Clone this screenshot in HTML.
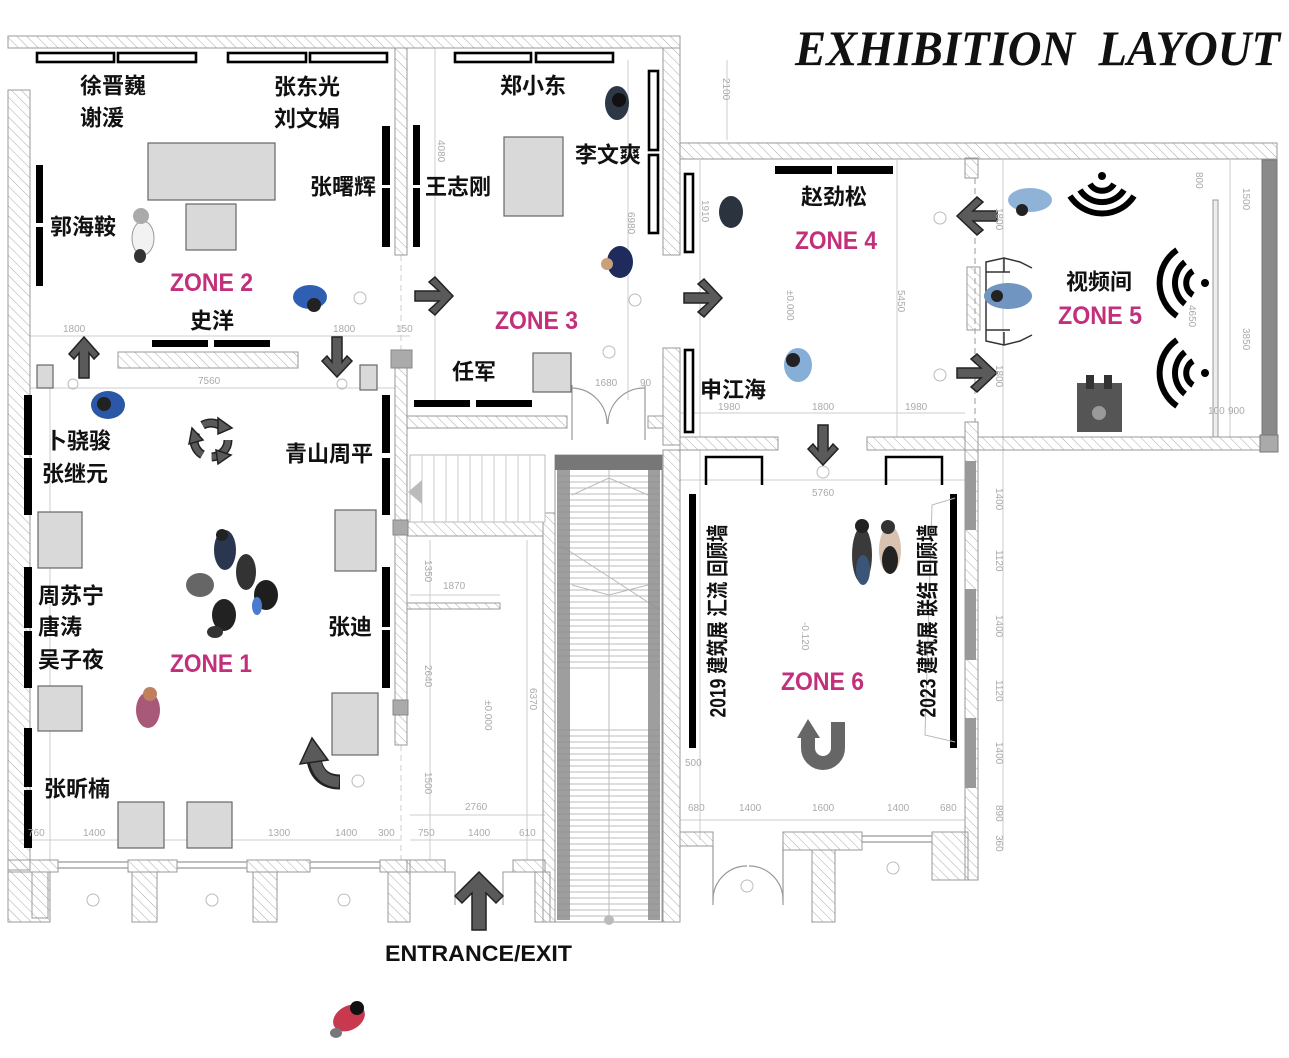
<!DOCTYPE html>
<html><head><meta charset="utf-8"><style>
html,body{margin:0;padding:0;background:#fff;}
svg{display:block;}
.n{font-family:"Liberation Sans","Noto Sans CJK SC",sans-serif;font-weight:bold;font-size:22px;fill:#111;dominant-baseline:central;}
.z{font-family:"Liberation Sans","Noto Sans CJK SC",sans-serif;font-weight:bold;font-size:25px;fill:#c2307c;dominant-baseline:central;}
.d{font-family:"Liberation Sans",sans-serif;font-size:10px;fill:#aaa;}
.w{fill:url(#h);stroke:#999;stroke-width:1;}
.p{fill:#d9d9d9;stroke:#666;stroke-width:1.2;}
.b{fill:#000;}
.o{fill:#fff;stroke:#000;stroke-width:2.6;}
.ar{fill:#5a5a5a;stroke:#222;stroke-width:1.5;}
.dl{stroke:#ccc;stroke-width:1;fill:none;}
</style></head><body>
<svg width="1289" height="1058" viewBox="0 0 1289 1058" xmlns="http://www.w3.org/2000/svg">
<defs>
<pattern id="h" width="7" height="7" patternUnits="userSpaceOnUse" patternTransform="rotate(-45)">
<line x1="0" y1="0" x2="0" y2="7" stroke="#aaa" stroke-width="1"/>
</pattern>
</defs>
<rect width="1289" height="1058" fill="#fff"/>

<!-- Title -->
<text x="795" y="65" font-family="'Liberation Serif',serif" font-weight="bold" font-style="italic" font-size="50" textLength="485" lengthAdjust="spacingAndGlyphs" fill="#111">EXHIBITION&#160;&#160;LAYOUT</text>

<!-- dimension lines (light) -->
<g class="dl">
<line x1="30" y1="336" x2="410" y2="336"/>
<line x1="30" y1="388" x2="395" y2="388"/>
<line x1="20" y1="840" x2="400" y2="840"/>
<line x1="50" y1="380" x2="50" y2="860"/>
<line x1="435" y1="48" x2="435" y2="400"/>
<line x1="628" y1="60" x2="628" y2="400"/>
<line x1="700" y1="160" x2="700" y2="437"/>
<line x1="897" y1="160" x2="897" y2="437"/>
<line x1="680" y1="413" x2="965" y2="413"/>
<line x1="680" y1="480" x2="965" y2="480"/>
<line x1="680" y1="820" x2="965" y2="820"/>
<line x1="700" y1="450" x2="700" y2="840"/>
<line x1="1003" y1="160" x2="1003" y2="850"/>
<line x1="1230" y1="160" x2="1230" y2="437"/>
<line x1="430" y1="540" x2="430" y2="860"/>
<line x1="527" y1="540" x2="527" y2="860"/>
<line x1="410" y1="815" x2="545" y2="815"/>
<line x1="410" y1="840" x2="545" y2="840"/>
<line x1="410" y1="595" x2="500" y2="595"/>
<line x1="727" y1="60" x2="727" y2="140"/>
</g>
<line x1="975" y1="178" x2="975" y2="422" stroke="#bbb" stroke-width="1.5" stroke-dasharray="6,4"/>
<line x1="401" y1="255" x2="401" y2="350" stroke="#ccc" stroke-width="1" stroke-dasharray="6,4"/>
<line x1="401" y1="745" x2="401" y2="860" stroke="#ccc" stroke-width="1" stroke-dasharray="6,4"/>

<!-- Walls -->
<rect class="w" x="8" y="36" width="672" height="12"/>
<rect class="w" x="663" y="48" width="17" height="207"/>
<rect class="w" x="680" y="143" width="597" height="16"/>
<rect class="w" x="8" y="90" width="22" height="780"/>
<rect class="w" x="395" y="48" width="12" height="207"/>
<rect class="w" x="118" y="352" width="180" height="16"/>
<rect class="w" x="395" y="368" width="12" height="377"/>
<rect class="w" x="663" y="348" width="17" height="97"/>
<rect class="w" x="407" y="416" width="160" height="12"/>
<rect class="w" x="648" y="416" width="15" height="12"/>
<rect class="w" x="680" y="437" width="98" height="13"/>
<rect class="w" x="867" y="437" width="98" height="13"/>
<rect class="w" x="965" y="158" width="13" height="20"/>
<rect class="w" x="965" y="422" width="13" height="28"/>
<rect class="w" x="978" y="437" width="284" height="13"/>
<rect x="1262" y="160" width="15" height="290" fill="#8a8a8a" stroke="#777"/>
<rect x="1260" y="435" width="18" height="17" fill="#aaa" stroke="#777"/>
<rect class="w" x="965" y="450" width="13" height="430"/>
<rect x="965" y="461" width="11" height="69" fill="#999"/>
<rect x="965" y="589" width="11" height="71" fill="#999"/>
<rect x="965" y="718" width="11" height="70" fill="#999"/>
<rect class="w" x="663" y="450" width="17" height="472"/>
<rect class="w" x="543" y="513" width="12" height="409"/>
<rect class="w" x="407" y="522" width="136" height="14"/>
<rect class="w" x="967" y="267" width="13" height="63"/>
<rect x="1213" y="200" width="5" height="237" fill="#eee" stroke="#999"/>

<!-- zone1 bottom wall + windows -->
<rect class="w" x="8" y="860" width="50" height="12"/>
<rect class="w" x="128" y="860" width="49" height="12"/>
<rect class="w" x="247" y="860" width="63" height="12"/>
<rect class="w" x="380" y="860" width="30" height="12"/>
<g stroke="#999" stroke-width="1.2">
<line x1="58" y1="862" x2="128" y2="862"/><line x1="58" y1="868" x2="128" y2="868"/>
<line x1="177" y1="862" x2="247" y2="862"/><line x1="177" y1="868" x2="247" y2="868"/>
<line x1="310" y1="862" x2="380" y2="862"/><line x1="310" y1="868" x2="380" y2="868"/>
<line x1="862" y1="836" x2="932" y2="836"/><line x1="862" y1="842" x2="932" y2="842"/>
</g>
<!-- pillars -->
<rect class="w" x="8" y="872" width="42" height="50"/>
<rect x="32" y="872" width="16" height="46" fill="none" stroke="#999"/>
<rect class="w" x="132" y="872" width="25" height="50"/>
<rect class="w" x="253" y="872" width="24" height="50"/>
<rect class="w" x="388" y="872" width="22" height="50"/>
<rect class="w" x="535" y="872" width="15" height="50"/>
<rect class="w" x="812" y="850" width="23" height="72"/>
<!-- corridor bottom -->
<rect class="w" x="407" y="860" width="38" height="12"/>
<rect class="w" x="513" y="860" width="32" height="12"/>
<path d="M445 872 L455 872 L455 905 M513 872 L503 872 L503 905" stroke="#999" fill="none"/>
<!-- zone6 bottom -->
<rect class="w" x="680" y="832" width="33" height="14"/>
<rect class="w" x="783" y="832" width="79" height="18"/>
<rect class="w" x="932" y="832" width="36" height="48"/>
<!-- doors -->
<g stroke="#999" fill="none" stroke-width="1.2">
<path d="M572 385 L572 440 M645 385 L645 440"/>
<path d="M572 388 A36 36 0 0 1 607 424"/>
<path d="M645 388 A36 36 0 0 0 608 424"/>
<path d="M713 846 L713 905 M783 846 L783 905"/>
<path d="M713 900 A34 34 0 0 1 747 866"/>
<path d="M783 900 A34 34 0 0 0 749 866"/>
</g>
<g stroke="#bbb" fill="none"><circle cx="747" cy="886" r="6"/><circle cx="893" cy="868" r="6"/><circle cx="93" cy="900" r="6"/><circle cx="212" cy="900" r="6"/><circle cx="344" cy="900" r="6"/><circle cx="609" cy="352" r="6"/><circle cx="635" cy="300" r="6"/><circle cx="940" cy="218" r="6"/><circle cx="940" cy="375" r="6"/><circle cx="823" cy="472" r="6"/><circle cx="360" cy="298" r="6"/><circle cx="73" cy="384" r="5"/><circle cx="342" cy="384" r="5"/><circle cx="358" cy="781" r="6"/></g>

<!-- Stair -->
<rect x="555" y="455" width="107" height="467" fill="#fff" stroke="#999"/>
<g stroke="#bbb" stroke-width="1" fill="none">
<path d="M557 476 H660 M557 482 H660 M557 488 H660 M557 494 H660 M557 500 H660 M557 506 H660 M557 512 H660 M557 518 H660 M557 524 H660 M557 530 H660 M557 536 H660 M557 542 H660 M557 548 H660 M557 554 H660 M557 560 H660 M557 566 H660 M557 572 H660 M557 578 H660 M557 584 H660 M557 590 H660 M557 596 H660 M557 602 H660 M557 608 H660 M557 614 H660 M557 620 H660 M557 626 H660 M557 632 H660 M557 638 H660 M557 644 H660 M557 650 H660 M557 656 H660 M557 662 H660 M557 668 H660"/>
<path d="M557 730 H660 M557 736 H660 M557 742 H660 M557 748 H660 M557 754 H660 M557 760 H660 M557 766 H660 M557 772 H660 M557 778 H660 M557 784 H660 M557 790 H660 M557 796 H660 M557 802 H660 M557 808 H660 M557 814 H660 M557 820 H660 M557 826 H660 M557 832 H660 M557 838 H660 M557 844 H660 M557 850 H660 M557 856 H660 M557 862 H660 M557 868 H660 M557 874 H660 M557 880 H660 M557 886 H660 M557 892 H660 M557 898 H660 M557 904 H660 M557 910 H660 M557 916 H660"/>
<path d="M609 470 V920 M572 495 L609 478 L648 495 M560 545 L660 610 M572 585 L609 595 L648 585"/>
</g>
<rect x="555" y="455" width="107" height="15" fill="#777"/>
<rect x="557" y="470" width="13" height="450" fill="#8d8d8d" opacity="0.85"/>
<rect x="648" y="470" width="12" height="450" fill="#8d8d8d" opacity="0.85"/>
<circle cx="609" cy="920" r="5" fill="#bbb"/>

<!-- corridor stairs -->
<rect x="410" y="455" width="135" height="67" fill="#fff" stroke="#bbb"/>
<g stroke="#ccc"><path d="M422 455 V522 M434 455 V522 M446 455 V522 M458 455 V522 M470 455 V522 M482 455 V522 M494 455 V522 M506 455 V522 M518 455 V522 M530 455 V522"/></g>
<polygon points="408,492 422,480 422,504" fill="#bbb"/>
<rect class="w" x="407" y="603" width="93" height="6"/>

<!-- wall gray squares -->
<rect x="391" y="350" width="21" height="18" fill="#aaa" stroke="#888"/>
<rect x="393" y="520" width="15" height="15" fill="#aaa" stroke="#888"/>
<rect x="393" y="700" width="15" height="15" fill="#aaa" stroke="#888"/>

<!-- outlined panels -->
<rect class="o" x="37" y="53" width="77" height="9"/>
<rect class="o" x="118" y="53" width="78" height="9"/>
<rect class="o" x="228" y="53" width="78" height="9"/>
<rect class="o" x="310" y="53" width="77" height="9"/>
<rect class="o" x="455" y="53" width="76" height="9"/>
<rect class="o" x="536" y="53" width="77" height="9"/>
<rect class="o" x="649" y="71" width="9" height="79"/>
<rect class="o" x="649" y="155" width="9" height="78"/>
<rect class="o" x="685" y="174" width="8" height="78"/>
<rect class="o" x="685" y="350" width="8" height="82"/>

<!-- black panels -->
<rect class="b" x="36" y="165" width="7" height="58"/>
<rect class="b" x="36" y="227" width="7" height="59"/>
<rect class="b" x="382" y="126" width="8" height="59"/>
<rect class="b" x="382" y="188" width="8" height="59"/>
<rect class="b" x="152" y="340" width="56" height="7"/>
<rect class="b" x="214" y="340" width="56" height="7"/>
<rect class="b" x="413" y="125" width="7" height="60"/>
<rect class="b" x="413" y="188" width="7" height="59"/>
<rect class="b" x="414" y="400" width="56" height="7"/>
<rect class="b" x="476" y="400" width="56" height="7"/>
<rect class="b" x="775" y="166" width="57" height="8"/>
<rect class="b" x="837" y="166" width="56" height="8"/>
<rect class="b" x="24" y="395" width="8" height="60"/>
<rect class="b" x="24" y="458" width="8" height="57"/>
<rect class="b" x="24" y="567" width="8" height="61"/>
<rect class="b" x="24" y="631" width="8" height="57"/>
<rect class="b" x="24" y="728" width="8" height="59"/>
<rect class="b" x="24" y="790" width="8" height="58"/>
<rect class="b" x="382" y="395" width="8" height="58"/>
<rect class="b" x="382" y="458" width="8" height="57"/>
<rect class="b" x="382" y="567" width="8" height="60"/>
<rect class="b" x="382" y="630" width="8" height="58"/>
<rect class="b" x="689" y="494" width="7" height="254"/>
<rect class="b" x="950" y="494" width="7" height="254"/>

<!-- zone6 cabinets -->
<path d="M706 485 V457 H762 V485 M886 485 V457 H942 V485" stroke="#000" stroke-width="2.5" fill="none"/>
<path d="M955 498 L932 505 L925 735 L955 742" stroke="#bbb" fill="none"/>

<!-- pedestals -->
<rect class="p" x="148" y="143" width="127" height="57"/>
<rect class="p" x="186" y="204" width="50" height="46"/>
<rect class="p" x="504" y="137" width="59" height="79"/>
<rect class="p" x="533" y="353" width="38" height="39"/>
<rect class="p" x="37" y="365" width="16" height="23"/>
<rect class="p" x="360" y="365" width="17" height="25"/>
<rect class="p" x="38" y="512" width="44" height="56"/>
<rect class="p" x="38" y="686" width="44" height="45"/>
<rect class="p" x="335" y="510" width="41" height="61"/>
<rect class="p" x="332" y="693" width="46" height="62"/>
<rect class="p" x="118" y="802" width="46" height="46"/>
<rect class="p" x="187" y="802" width="45" height="46"/>

<!-- sofa zone5 -->
<path d="M1032 268 L1020 262 L1004 258 L986 262 L986 341 L1004 345 L1020 341 L1032 335 M1004 258 V272 M1004 332 V345 M986 272 H1010 M986 330 H1010" stroke="#333" stroke-width="1.5" fill="none"/>

<!-- arrows -->
<polygon class="ar" points="415,291 439,291 429,282 435,277 453,296 435,315 429,310 439,301 415,301"/>
<polygon class="ar" points="684,293 708,293 698,284 704,279 722,298 704,317 698,312 708,303 684,303"/>
<polygon class="ar" points="997,221 973,221 983,230 977,235 957,216 977,197 983,202 973,211 997,211"/>
<polygon class="ar" points="957,368 981,368 971,359 977,354 997,373 977,392 971,387 981,378 957,378"/>
<polygon class="ar" points="84,337 99,354 94,359 89,353 89,378 79,378 79,353 74,359 69,354"/>
<polygon class="ar" points="332,337 342,337 342,362 347,356 352,361 337,377 322,361 327,356 332,362"/>
<polygon class="ar" points="818,425 828,425 828,450 833,444 838,449 823,465 808,449 813,444 818,450"/>
<polygon class="ar" points="479,872 503,896 496,903 486,893 486,930 472,930 472,893 462,903 455,896"/>

<!-- recycle -->
<g>
<circle cx="211" cy="440" r="17" fill="none" stroke="#222" stroke-width="9" stroke-dasharray="26,9.6"/>
<circle cx="211" cy="440" r="17" fill="none" stroke="#5a5a5a" stroke-width="6" stroke-dasharray="26,9.6"/>
<polygon class="ar" points="218,418 232,428 218,434"/>
<polygon class="ar" points="231,455 218,464 216,450"/>
<polygon class="ar" points="189,444 192,428 203,440"/>
</g>
<!-- curved arrow -->
<path d="M340 782 Q318 782 314 760" stroke="#222" stroke-width="15" fill="none"/>
<path d="M339 782 Q319 781 315 760" stroke="#5a5a5a" stroke-width="11" fill="none"/>
<polygon class="ar" points="300,764 312,738 328,760"/>
<!-- U-turn -->
<path d="M838 722 V748 A15 15 0 0 1 808 748 V736" stroke="#666" stroke-width="14" fill="none"/>
<polygon points="797,738 808,719 820,738" fill="#666"/>

<!-- wifi icons -->
<g fill="none" stroke="#000" stroke-width="6">
<path d="M1090 184 A14 14 0 0 0 1114 184"/>
<path d="M1080 190 A26 26 0 0 0 1124 190"/>
<path d="M1070 196 A38 38 0 0 0 1134 196"/>
<path d="M1193 271 A14 14 0 0 0 1193 295"/>
<path d="M1185 262 A27 27 0 0 0 1185 304"/>
<path d="M1177 250 A40 40 0 0 0 1177 316"/>
<path d="M1193 361 A14 14 0 0 0 1193 385"/>
<path d="M1185 352 A27 27 0 0 0 1185 394"/>
<path d="M1177 340 A40 40 0 0 0 1177 406"/>
</g>
<circle cx="1102" cy="176" r="4" fill="#000"/>
<circle cx="1205" cy="283" r="4" fill="#000"/>
<circle cx="1205" cy="373" r="4" fill="#000"/>

<!-- persons -->
<ellipse cx="143" cy="238" rx="11" ry="17" fill="#f2f2f2" stroke="#999"/>
<circle cx="141" cy="216" r="8" fill="#aaa"/>
<ellipse cx="140" cy="256" rx="6" ry="7" fill="#333"/>
<ellipse cx="310" cy="297" rx="17" ry="12" fill="#2f5fb3"/>
<circle cx="314" cy="305" r="7" fill="#222"/>
<ellipse cx="617" cy="103" rx="12" ry="17" fill="#2d3745"/>
<circle cx="619" cy="100" r="7" fill="#111"/>
<ellipse cx="620" cy="262" rx="13" ry="16" fill="#1f2b5c"/>
<circle cx="607" cy="264" r="6" fill="#c9a07a"/>
<ellipse cx="731" cy="212" rx="12" ry="16" fill="#2b333f"/>
<ellipse cx="798" cy="365" rx="14" ry="17" fill="#86aed6"/>
<circle cx="793" cy="360" r="7" fill="#222"/>
<ellipse cx="1030" cy="200" rx="22" ry="12" fill="#8fb3d6"/>
<circle cx="1022" cy="210" r="6" fill="#222"/>
<ellipse cx="1008" cy="296" rx="24" ry="13" fill="#6f95c0"/>
<circle cx="997" cy="296" r="6" fill="#222"/>
<rect x="1077" y="383" width="45" height="49" fill="#555"/>
<rect x="1086" y="375" width="8" height="14" fill="#333"/><rect x="1104" y="375" width="8" height="14" fill="#333"/>
<circle cx="1099" cy="413" r="7" fill="#999"/>
<ellipse cx="108" cy="405" rx="17" ry="14" fill="#2a57a6"/>
<circle cx="104" cy="404" r="7" fill="#222"/>
<ellipse cx="225" cy="550" rx="11" ry="20" fill="#2a3550"/>
<circle cx="222" cy="535" r="6" fill="#222"/>
<ellipse cx="200" cy="585" rx="14" ry="12" fill="#666"/>
<ellipse cx="246" cy="572" rx="10" ry="18" fill="#333"/>
<ellipse cx="266" cy="595" rx="12" ry="15" fill="#1e1e1e"/>
<ellipse cx="224" cy="615" rx="12" ry="16" fill="#222"/>
<ellipse cx="215" cy="632" rx="8" ry="6" fill="#333"/>
<ellipse cx="257" cy="606" rx="5" ry="9" fill="#4a7bd0"/>
<ellipse cx="148" cy="710" rx="12" ry="18" fill="#a85878"/>
<circle cx="150" cy="694" r="7" fill="#c08060"/>
<ellipse cx="862" cy="555" rx="10" ry="28" fill="#3a3a3a"/>
<ellipse cx="863" cy="570" rx="7" ry="15" fill="#3b5578"/>
<ellipse cx="890" cy="550" rx="11" ry="24" fill="#d9c2b0"/>
<ellipse cx="890" cy="560" rx="8" ry="14" fill="#222"/>
<circle cx="862" cy="526" r="7" fill="#222"/>
<circle cx="888" cy="527" r="7" fill="#333"/>
<ellipse cx="349" cy="1018" rx="17" ry="12" fill="#c8394f" transform="rotate(-30 349 1018)"/>
<circle cx="357" cy="1008" r="7" fill="#111"/>
<ellipse cx="336" cy="1033" rx="6" ry="5" fill="#777"/>

<!-- names -->
<text class="n" x="80" y="86">徐晋巍</text>
<text class="n" x="80" y="118">谢湲</text>
<text class="n" x="274" y="87">张东光</text>
<text class="n" x="274" y="119">刘文娟</text>
<text class="n" x="310" y="187">张曙辉</text>
<text class="n" x="50" y="227">郭海鞍</text>
<text class="n" x="190" y="321">史洋</text>
<text class="n" x="500" y="86">郑小东</text>
<text class="n" x="575" y="155">李文爽</text>
<text class="n" x="425" y="187">王志刚</text>
<text class="n" x="452" y="372">任军</text>
<text class="n" x="801" y="197">赵劲松</text>
<text class="n" x="700" y="390">申江海</text>
<text class="n" x="1066" y="282">视频间</text>
<text class="n" x="45" y="441">卜骁骏</text>
<text class="n" x="42" y="474">张继元</text>
<text class="n" x="285" y="454">青山周平</text>
<text class="n" x="38" y="596">周苏宁</text>
<text class="n" x="38" y="627">唐涛</text>
<text class="n" x="38" y="660">吴子夜</text>
<text class="n" x="328" y="627">张迪</text>
<text class="n" x="44" y="789">张昕楠</text>
<text class="n" x="718" y="621" text-anchor="middle" font-size="17" textLength="193" lengthAdjust="spacingAndGlyphs" transform="rotate(-90 718 621)">2019 建筑展 汇流 回顾墙</text>
<text class="n" x="928" y="621" text-anchor="middle" font-size="17" textLength="193" lengthAdjust="spacingAndGlyphs" transform="rotate(-90 928 621)">2023 建筑展 联结 回顾墙</text>

<!-- zones -->
<text class="z" x="170" y="283" textLength="83" lengthAdjust="spacingAndGlyphs">ZONE 2</text>
<text class="z" x="495" y="321" textLength="83" lengthAdjust="spacingAndGlyphs">ZONE 3</text>
<text class="z" x="795" y="241" textLength="82" lengthAdjust="spacingAndGlyphs">ZONE 4</text>
<text class="z" x="1058" y="316" textLength="84" lengthAdjust="spacingAndGlyphs">ZONE 5</text>
<text class="z" x="170" y="664" textLength="82" lengthAdjust="spacingAndGlyphs">ZONE 1</text>
<text class="z" x="781" y="682" textLength="83" lengthAdjust="spacingAndGlyphs">ZONE 6</text>

<text x="385" y="961" font-family="'Liberation Sans',sans-serif" font-weight="bold" font-size="22" textLength="187" lengthAdjust="spacingAndGlyphs" fill="#111">ENTRANCE/EXIT</text>

<!-- dimension labels -->
<g class="d">
<text x="63" y="332">1800</text><text x="333" y="332">1800</text><text x="396" y="332">150</text>
<text x="198" y="384">7560</text>
<text x="28" y="836">760</text><text x="83" y="836">1400</text><text x="268" y="836">1300</text><text x="335" y="836">1400</text><text x="378" y="836">300</text>
<text x="465" y="810">2760</text><text x="418" y="836">750</text><text x="468" y="836">1400</text><text x="519" y="836">610</text><text x="443" y="589">1870</text>
<text x="595" y="386">1680</text><text x="640" y="386">90</text>
<text x="718" y="410">1980</text><text x="812" y="410">1800</text><text x="905" y="410">1980</text>
<text x="812" y="496">5760</text><text x="685" y="766">500</text>
<text x="688" y="811">680</text><text x="739" y="811">1400</text><text x="812" y="811">1600</text><text x="887" y="811">1400</text><text x="940" y="811">680</text>
<text x="1208" y="414">100</text><text x="1228" y="414">900</text>
<text transform="translate(723,78) rotate(90)">2100</text>
<text transform="translate(438,140) rotate(90)">4080</text>
<text transform="translate(628,212) rotate(90)">6980</text>
<text transform="translate(702,200) rotate(90)">1910</text>
<text transform="translate(787,290) rotate(90)">±0.000</text>
<text transform="translate(898,290) rotate(90)">5450</text>
<text transform="translate(485,700) rotate(90)">±0.000</text>
<text transform="translate(530,688) rotate(90)">6370</text>
<text transform="translate(425,560) rotate(90)">1350</text>
<text transform="translate(425,665) rotate(90)">2640</text>
<text transform="translate(425,772) rotate(90)">1500</text>
<text transform="translate(802,622) rotate(90)">-0.120</text>
<text transform="translate(996,488) rotate(90)">1400</text>
<text transform="translate(996,550) rotate(90)">1120</text>
<text transform="translate(996,615) rotate(90)">1400</text>
<text transform="translate(996,680) rotate(90)">1120</text>
<text transform="translate(996,742) rotate(90)">1400</text>
<text transform="translate(996,805) rotate(90)">890</text>
<text transform="translate(996,835) rotate(90)">360</text>
<text transform="translate(996,208) rotate(90)">1800</text>
<text transform="translate(996,365) rotate(90)">1800</text>
<text transform="translate(1196,172) rotate(90)">800</text>
<text transform="translate(1243,188) rotate(90)">1500</text>
<text transform="translate(1243,328) rotate(90)">3850</text>
<text transform="translate(1189,305) rotate(90)">4650</text>
</g>
</svg>
</body></html>
